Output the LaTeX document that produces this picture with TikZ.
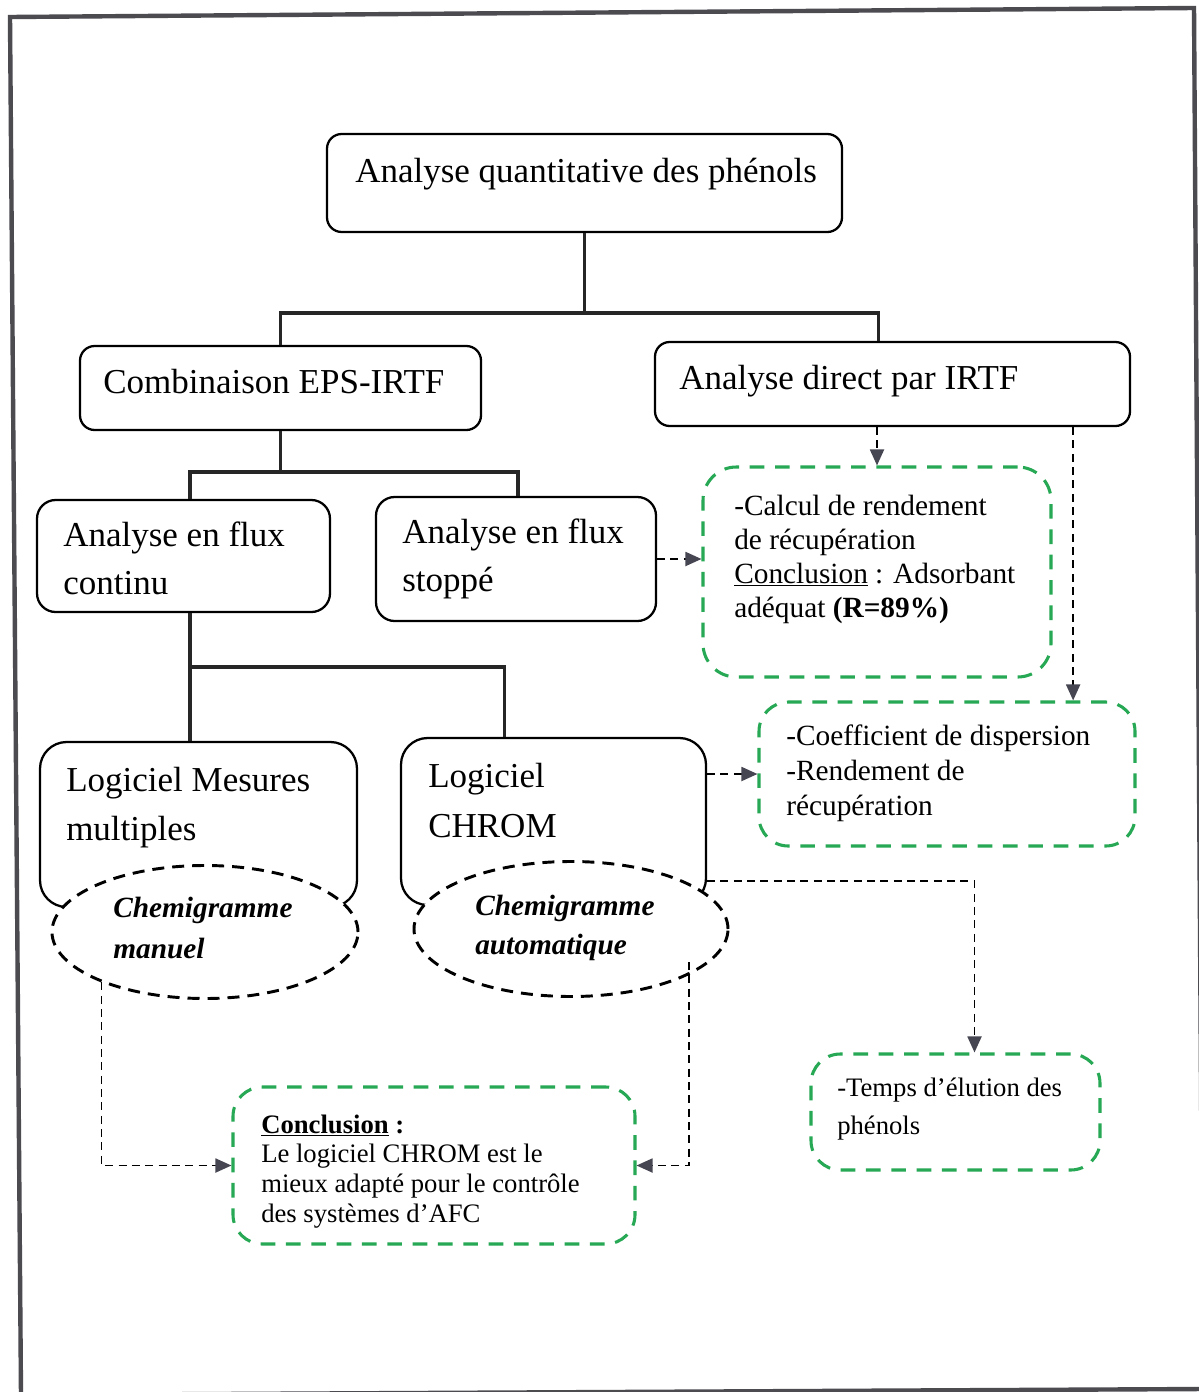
\documentclass[tikz,border=0pt]{standalone}
\usepackage{fontspec}
\setmainfont{Liberation Serif}
\usetikzlibrary{arrows.meta,fit,calc,shapes.geometric}
\definecolor{dgreen}{RGB}{38,168,84}
\definecolor{tipgray}{RGB}{70,70,82}
\definecolor{framegray}{RGB}{75,75,80}
\newcommand{\mylines}[1]{\begin{tabular}[t]{@{}l@{}}#1\end{tabular}}
\begin{document}
\begin{tikzpicture}[x=0.75pt,y=-0.75pt,
  box/.style={draw=black, line width=1.7pt, inner sep=0pt, rounded corners=11pt},
  gbox/.style={draw=dgreen, line width=2.3pt, dash pattern=on 11pt off 8pt, inner sep=0pt, rounded corners=22pt},
  ell/.style={ellipse, draw=black, line width=2.2pt, dash pattern=on 9pt off 6pt, fill=white, inner sep=0pt},
  tree/.style={draw=black!85, line width=2.6pt},
  darr/.style={draw=black, line width=1.4pt, dash pattern=on 6pt off 4pt, -{Triangle[length=12pt,width=10.5pt,color=tipgray]}},
  txt/.style={inner sep=0pt, anchor=base west, text=black},
  bigfont/.style={font=\fontsize{26.25}{36}\selectfont}
]
\useasboundingbox (0,0) rectangle (1199,1392);
\fill[white] (0,0) rectangle (1199,1392);
\draw[draw=framegray, line width=3.3pt] (10,17) -- (1194,8) -- (1203,1389) -- (21,1395) -- cycle;

% boxes
\node[box, fit={(327,134)(842,232)}] (top) {};
\node[box, fit={(80,346)(481,430)}] (comb) {};
\node[box, fit={(655,342)(1130,426)}] (direct) {};
\node[box, rounded corners=14pt, fit={(37,500)(330,612)}] (cont) {};
\node[box, rounded corners=14pt, fit={(376,497)(656,621)}] (stop) {};
\node[gbox, rounded corners=25pt, fit={(703,467)(1051,677)}] (g1) {};
\node[gbox, fit={(759,702)(1135,846)}] (g2) {};
\node[box, rounded corners=20pt, fit={(40,742)(357,907)}] (l1) {};
\node[box, rounded corners=20pt, fit={(401,738)(706,905)}] (l2) {};
\node[ell, minimum width=229.5pt, minimum height=99.75pt] (e1) at (205,932) {};
\node[ell, minimum width=235.5pt, minimum height=101.25pt] (e2) at (571,929) {};
\node[gbox, fit={(233,1087)(635,1244)}] (concl) {};
\node[gbox, fit={(811,1054)(1100,1170)}] (temps) {};

% texts
\node[txt, bigfont] (ttop) at (355,182) {Analyse quantitative des phénols};
\node[txt, bigfont] (tcomb) at (103,393) {Combinaison EPS-IRTF};
\node[txt, bigfont] (tdirect) at (679,389) {Analyse direct par IRTF};
\node[txt, font=\fontsize{26.25}{36}\selectfont] (tcont) at (63,546) {\mylines{Analyse en flux\\continu}};
\node[txt, font=\fontsize{26.25}{36.5}\selectfont] (tstop) at (402,543) {\mylines{Analyse en flux\\stoppé}};
\node[txt, font=\fontsize{22}{25.5}\selectfont] (tg1) at (734,515) {\mylines{-Calcul de rendement\\de récupération\\\underline{Conclusion} : Adsorbant\\adéquat \textbf{(R=89\%)}}};
\node[txt, font=\fontsize{22}{26.25}\selectfont] (tg2) at (786,745) {\mylines{-Coefficient de dispersion\\-Rendement de\\récupération}};
\node[txt, font=\fontsize{26.25}{36.75}\selectfont] (tl1) at (66,791) {\mylines{Logiciel Mesures\\multiples}};
\node[txt, font=\fontsize{26.25}{37.5}\selectfont] (tl2) at (428,787) {\mylines{Logiciel\\CHROM}};
\node[txt, font=\fontsize{22}{30.75}\selectfont\bfseries\itshape] (te1) at (113,917) {\mylines{Chemigramme\\manuel}};
\node[txt, font=\fontsize{22}{29.5}\selectfont\bfseries\itshape] (te2) at (475,915) {\mylines{Chemigramme\\automatique}};
\node[txt, font=\fontsize{20}{22.4}\selectfont] (tconcl) at (261,1133) {\mylines{\textbf{\underline{Conclusion} :}\\Le logiciel CHROM est le\\mieux adapté pour le contrôle\\des systèmes d’AFC}};
\node[txt, font=\fontsize{20}{28.9}\selectfont] (ttemps) at (837,1096) {\mylines{-Temps d’élution des\\phénols}};

% tree connectors
\coordinate (j1) at (0,313);
\coordinate (j2) at (0,472);
\coordinate (j3) at (0,667);
\coordinate (dn) at ([xshift=-10.5pt]direct.north);
\coordinate (cn) at ([xshift=4.9pt]cont.north);
\coordinate (cs) at ([xshift=4.9pt]cont.south);
\coordinate (sn) at ([xshift=1.5pt]stop.north);
\coordinate (l2n) at ([xshift=-36.75pt]l2.north);
\draw[tree] (top.south) -- (top.south |- j1);
\draw[tree] (comb.north) |- (dn |- j1) -- (dn);
\draw[tree] (comb.south) -- (comb.south |- j2);
\draw[tree] (cn) |- (sn |- j2) -- (sn);
\draw[tree] (cs) -- (cs |- l1.north);
\draw[tree] (cs |- j3) -| (l2n);

% dashed arrows
\coordinate (d2) at ([xshift=-43.5pt]direct.south east);
\coordinate (l2r) at ([yshift=18.75pt]l2.south east);
\coordinate (tn) at ([xshift=14.25pt]temps.north);
\coordinate (e2s) at ([shift={(88.5pt,-24.75pt)}]e2.center);
\draw[darr] (direct.south -| g1.north) -- (g1.north);
\draw[darr] (d2) -- (d2 |- g2.north);
\draw[darr] (stop.east) -- (stop.east -| g1.west);
\draw[darr] (g2.west -| l2.east) -- (g2.west);
\draw[darr] (l2r) -| (tn);
\draw[darr] (e1.206) |- (concl.west);
\draw[darr] (e2s) |- (concl.east);
\end{tikzpicture}
\end{document}
